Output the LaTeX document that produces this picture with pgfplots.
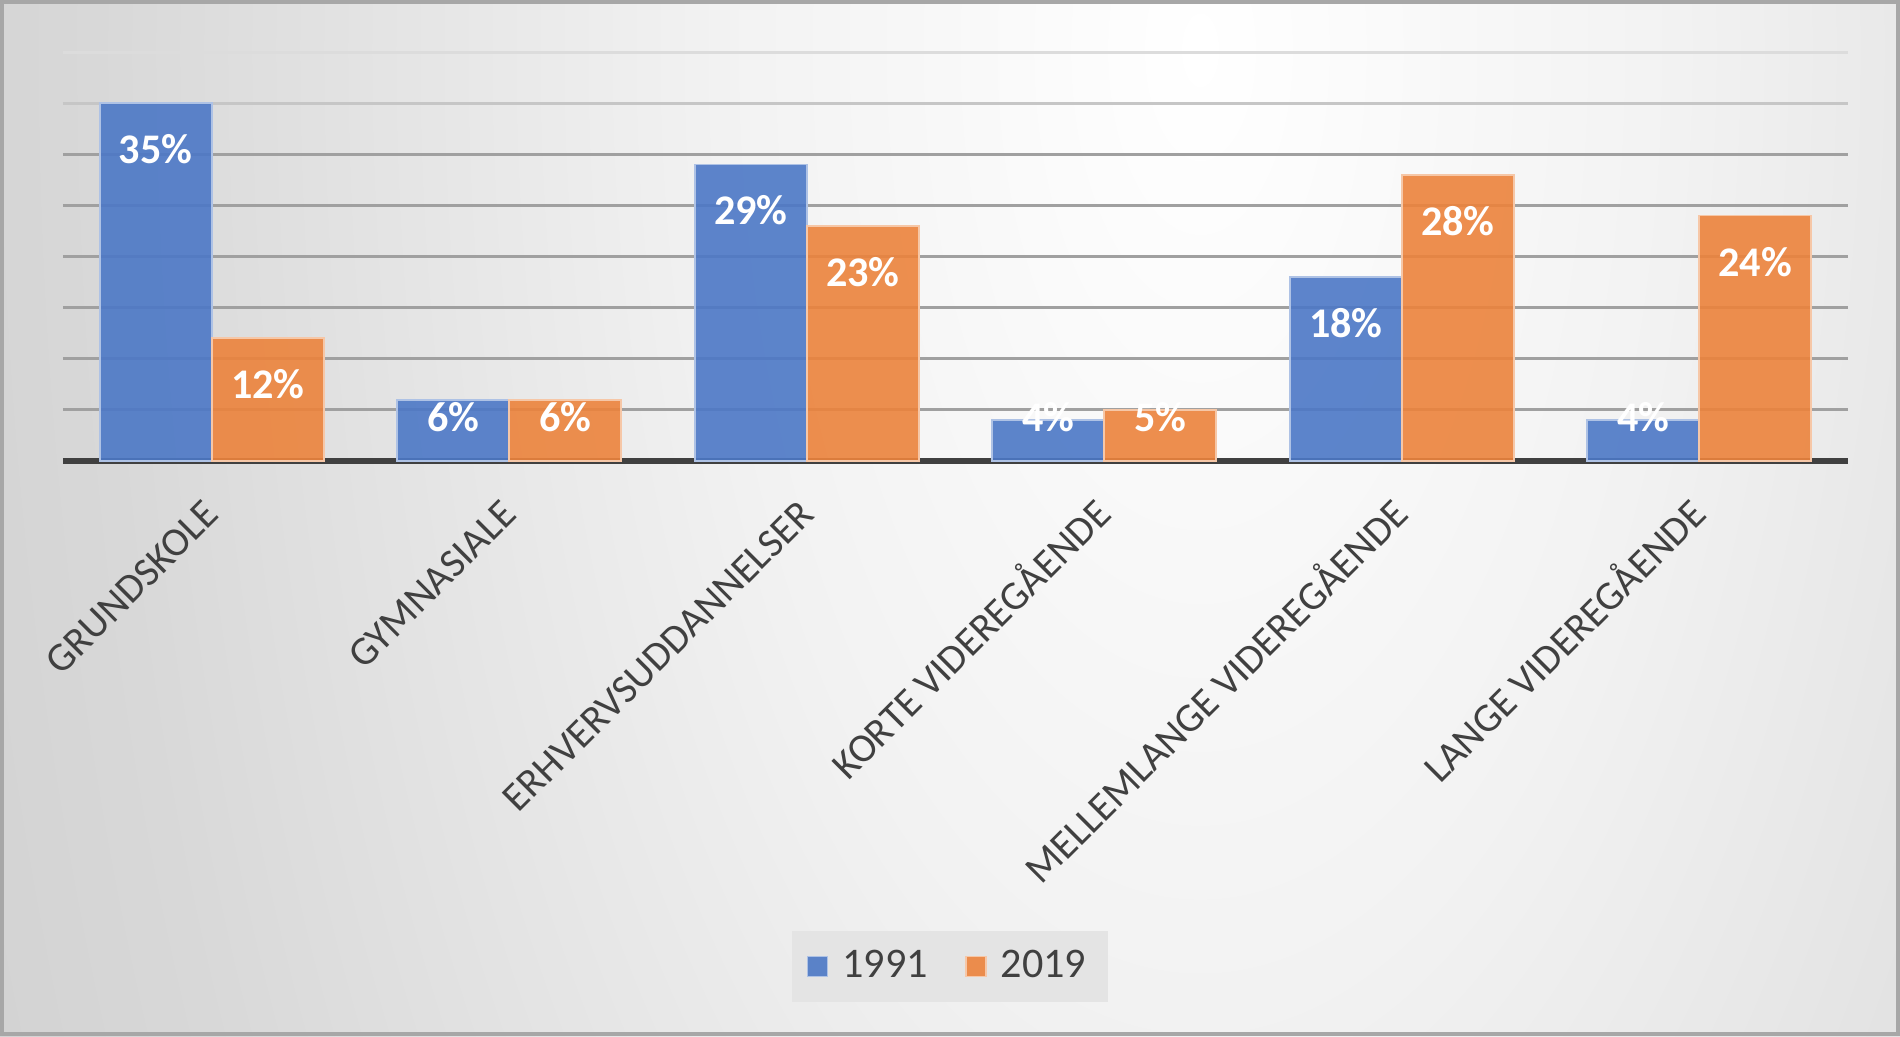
\documentclass[border=0pt]{standalone}
\usepackage{pgfplots}
\pgfplotsset{compat=1.18}
\usepackage{fontspec}
\setmainfont{Carlito}
\definecolor{cblue}{RGB}{76,120,198}
\definecolor{corange}{RGB}{236,131,60}
\definecolor{ctext}{HTML}{404040}
\definecolor{g240}{RGB}{242,242,242}
\definecolor{g214}{RGB}{216,216,216}
\definecolor{g205}{RGB}{206,206,206}
\definecolor{g196}{RGB}{197,197,197}
\definecolor{gridA}{RGB}{160,160,160}
\definecolor{gridB}{RGB}{198,198,198}
\definecolor{gridC}{RGB}{220,220,220}
\definecolor{glegend}{RGB}{228,228,228}
\pgfdeclareradialshading{bgshade}{\pgfpoint{0bp}{0bp}}{color(0bp)=(white); color(10bp)=(g240); color(23bp)=(g214); color(31bp)=(g205); color(51bp)=(g196); color(75bp)=(g196)}
\pgfplotsset{mylegend/.style={legend image code/.code={\draw[##1, line width=0.4pt] (0cm,-0.1cm) rectangle (0.2cm,0.1cm); \path (0.27cm,0cm);}}}
\begin{document}
\begin{tikzpicture}
\useasboundingbox (0,0) rectangle (19,10.36);
\begin{scope}
\clip (0,0) rectangle (19,10.36);
\shade[shading=bgshade] (0,-14.14) rectangle (24,33.86);
\end{scope}
\draw[color=g196!85!black, line width=0.04cm] (0.02,0.02) rectangle (18.98,10.34);
\begin{axis}[
  at={(0.63cm,5.75cm)}, anchor=south west,
  width=17.85cm, height=4.09cm, scale only axis,
  xmin=-0.5, xmax=5.5, ymin=0, ymax=40,
  ybar=0pt, bar width=1.12cm,
  axis x line*=bottom, axis y line*=left,
  x axis line style={draw=ctext, line width=0.06cm, -},
  y axis line style={draw=none},
  major tick length=0pt, minor tick length=0pt,
  xtick={0,...,5},
  xticklabels={GRUNDSKOLE, GYMNASIALE, ERHVERVSUDDANNELSER, KORTE VIDEREGÅENDE, MELLEMLANGE VIDEREGÅENDE, LANGE VIDEREGÅENDE},
  xticklabel style={font=\fontsize{11.5}{13.5}\selectfont, text=ctext, inner sep=0pt, text height=8pt, text depth=0pt, xshift=-0.11cm, yshift=-0.35cm, rotate=45, anchor=north east},
  ytick={5,10,...,30}, yticklabels={},
  minor ytick={35},
  extra y ticks={40}, extra y tick labels={},
  extra y tick style={major grid style={color=gridC, line width=0.03cm}},
  ymajorgrids, yminorgrids,
  major grid style={color=gridA, line width=0.03cm},
  minor grid style={color=gridB, line width=0.03cm},
  /pgf/number format/assume math mode=true,
  nodes near coords={\pgfmathprintnumber{\pgfplotspointmeta}\%},
  visualization depends on={rawy \as \rawy},
  every node near coord/.append style={font=\bfseries\fontsize{12}{14}\selectfont, text=white, text opacity=1, anchor=center, yshift={(max(\rawy-4.5,4.3)-\rawy)*2.9122pt}},
  every axis plot post/.append style={mylegend},
  legend style={at={(0.497,-1.2366)}, anchor=center, draw=none, fill=glegend, font=\fontsize{12}{14}\selectfont, text=ctext, inner xsep=0.15cm, inner ysep=0.12cm},
  legend columns=2,
  /tikz/every even column/.append style={column sep=0.3cm},
]
\addplot[fill=cblue, fill opacity=0.9, draw=white!55!cblue, line width=0.5pt] coordinates {(0,35) (1,6) (2,29) (3,4) (4,18) (5,4)};
\addplot[fill=corange, fill opacity=0.9, draw=white!55!corange, line width=0.5pt] coordinates {(0,12) (1,6) (2,23) (3,5) (4,28) (5,24)};
\legend{1991,2019}
\end{axis}
\end{tikzpicture}
\end{document}
